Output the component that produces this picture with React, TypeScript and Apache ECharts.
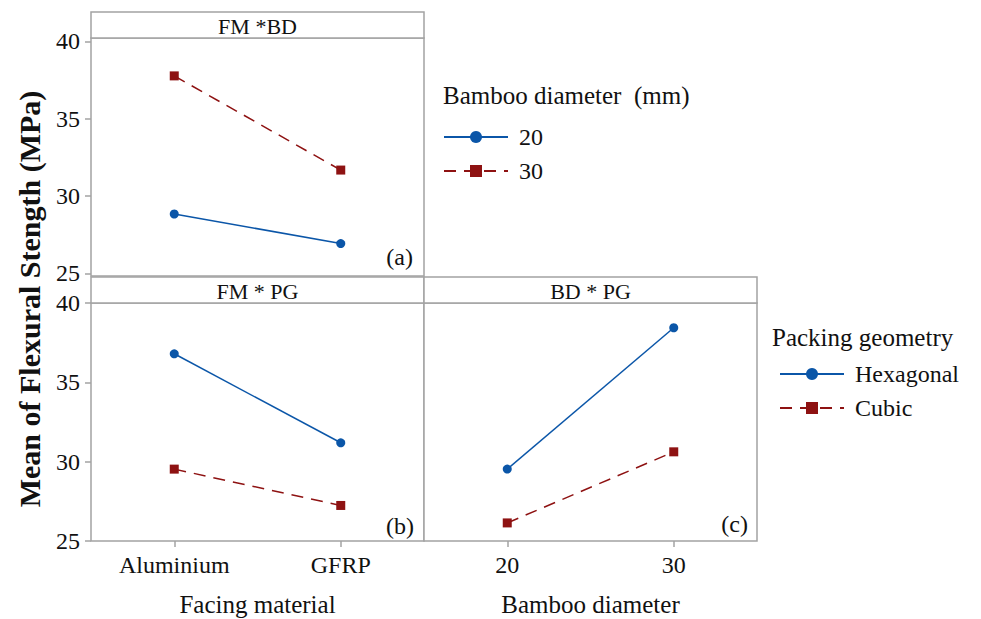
import React, { useEffect, useRef } from "react";
import * as echarts from "echarts";

const facingMaterial = ["Aluminium", "GFRP"];
const bambooDiameter = ["20", "30"];
const yTicks = [25, 30, 35, 40];

// (a) FM * BD
const bd20 = [28.84, 26.93];
const bd30 = [37.77, 31.68];
// (b) FM * PG
const fmHex = [36.8, 31.19];
const fmCubic = [29.53, 27.24];
// (c) BD * PG
const bdHex = [29.53, 38.44];
const bdCubic = [26.14, 30.62];

const BLUE = "#0b56a8";
const RED = "#8e1212";
const FRAME = "#a3a3a3";
const FONT = "Liberation Serif";
const INK = "#111";

export default function App() {
  const ref = useRef<HTMLDivElement>(null);
  useEffect(() => {
    if (!ref.current) return;
    const chart = echarts.init(ref.current, null, { renderer: "svg" });

    const L = 91, M = 424;
    const W = 333, H = 238;
    const topA = 38, topB = 303;

    const blueLine = (name: string, data: number[], xi: number) => ({
      type: "line", name, data, xAxisIndex: xi, yAxisIndex: xi,
      symbol: "circle", symbolSize: 9,
      itemStyle: { color: BLUE },
      lineStyle: { color: BLUE, width: 1.5, type: "solid" },
    });
    const redLine = (name: string, data: number[], xi: number) => ({
      type: "line", name, data, xAxisIndex: xi, yAxisIndex: xi,
      symbol: "rect", symbolSize: 9,
      itemStyle: { color: RED },
      lineStyle: { color: RED, width: 1.5, type: [12, 8] },
    });

    const gridBase = { show: true, borderColor: FRAME, borderWidth: 1.5, backgroundColor: "#fff" };
    const tickStyle = { show: true, length: 6, lineStyle: { color: FRAME, width: 1.5 } };
    const labelStyle = { color: INK, fontFamily: FONT, fontSize: 24 };

    const header = (x: number, y: number, text: string) => ({
      type: "group",
      children: [
        { type: "rect", shape: { x, y, width: W, height: 26 }, style: { fill: "#fff", stroke: FRAME, lineWidth: 1.5 } },
        { type: "text", x: x + W / 2, y: y + 14, style: { text, fontFamily: FONT, fontSize: 22, fill: INK, align: "center", verticalAlign: "middle" } },
      ],
    });
    const txt = (x: number, y: number, text: string, size: number, align = "left") => ({
      type: "text", x, y,
      style: { text, fontFamily: FONT, fontSize: size, fill: INK, align, verticalAlign: "middle" },
    });

    const legendBase = {
      orient: "vertical", itemWidth: 64, itemHeight: 15, itemGap: 10,
      textStyle: { color: INK, fontFamily: FONT, fontSize: 24, lineHeight: 20, padding: [0, 0, 0, 6] },
      selectedMode: false,
    };

    chart.setOption({
      animation: false,
      backgroundColor: "#fff",
      grid: [
        { ...gridBase, left: L, top: topA, width: W, height: H },
        { ...gridBase, left: L, top: topB, width: W, height: H },
        { ...gridBase, left: M, top: topB, width: W, height: H },
      ],
      xAxis: [
        { type: "category", gridIndex: 0, data: facingMaterial, axisLine: { show: false }, axisTick: { show: false }, axisLabel: { show: false } },
        {
          type: "category", gridIndex: 1, data: facingMaterial,
          axisLine: { show: false }, axisTick: { ...tickStyle, alignWithLabel: true },
          axisLabel: { margin: 12, ...labelStyle },
          name: "Facing material", nameLocation: "middle", nameGap: 51,
          nameTextStyle: { color: INK, fontFamily: FONT, fontSize: 25 },
        },
        {
          type: "category", gridIndex: 2, data: bambooDiameter,
          axisLine: { show: false }, axisTick: { ...tickStyle, alignWithLabel: true },
          axisLabel: { margin: 12, ...labelStyle },
          name: "Bamboo diameter", nameLocation: "middle", nameGap: 51,
          nameTextStyle: { color: INK, fontFamily: FONT, fontSize: 25 },
        },
      ],
      yAxis: [
        {
          type: "value", gridIndex: 0, min: 24.83, max: 40.22,
          axisLine: { show: false }, splitLine: { show: false },
          axisTick: { ...tickStyle, customValues: yTicks },
          axisLabel: { customValues: yTicks, margin: 11, ...labelStyle },
        },
        {
          type: "value", gridIndex: 1, min: 25, max: 40,
          axisLine: { show: false }, splitLine: { show: false },
          axisTick: { ...tickStyle, customValues: yTicks },
          axisLabel: { customValues: yTicks, margin: 11, ...labelStyle },
        },
        {
          type: "value", gridIndex: 2, min: 25, max: 40,
          axisLine: { show: false }, splitLine: { show: false },
          axisTick: { show: false }, axisLabel: { show: false },
        },
      ],
      legend: [
        { ...legendBase, data: ["20", "30"], left: 438, top: 120 },
        { ...legendBase, data: ["Hexagonal", "Cubic"], left: 774, top: 357 },
      ],
      graphic: [
        header(L, 12, "FM *BD"),
        header(L, 277, "FM * PG"),
        header(M, 277, "BD * PG"),
        txt(413, 257, "(a)", 24, "right"),
        txt(414, 526, "(b)", 24, "right"),
        txt(748, 524, "(c)", 24, "right"),
        txt(443, 95, "Bamboo diameter  (mm)", 25),
        txt(772, 337, "Packing geometry", 25),
        {
          type: "text", x: 29, y: 299, rotation: Math.PI / 2,
          style: { text: "Mean of Flexural Stength (MPa)", fontFamily: FONT, fontWeight: "bold", fontSize: 30, fill: INK, align: "center", verticalAlign: "middle" },
        },
      ],
      series: [
        blueLine("20", bd20, 0),
        redLine("30", bd30, 0),
        blueLine("Hexagonal", fmHex, 1),
        redLine("Cubic", fmCubic, 1),
        blueLine("Hexagonal", bdHex, 2),
        redLine("Cubic", bdCubic, 2),
      ],
    });
    return () => chart.dispose();
  }, []);
  return <div ref={ref} style={{ width: 981, height: 619, position: "absolute", left: 0, top: 0 }} />;
}
